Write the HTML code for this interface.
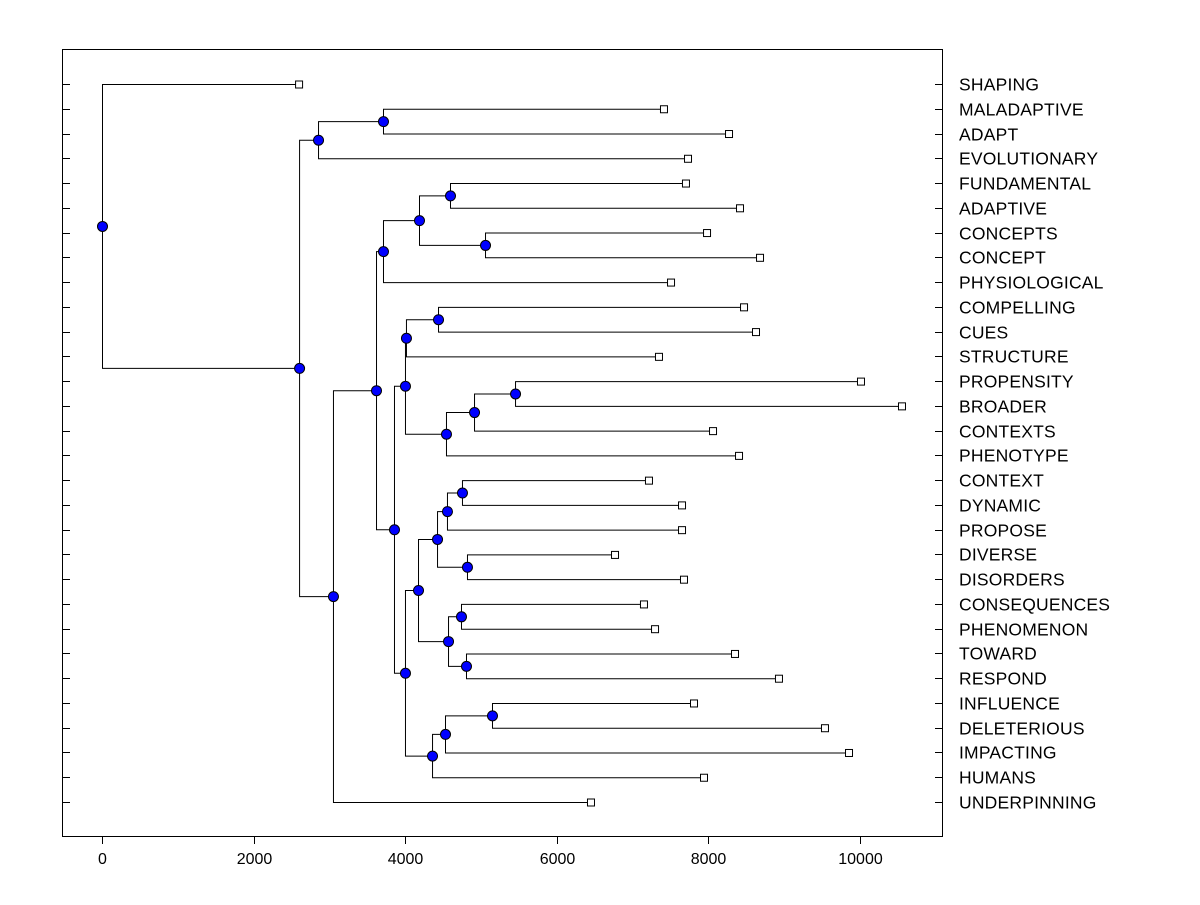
<!DOCTYPE html>
<html><head><meta charset="utf-8"><style>
body{margin:0;background:#fff;}
svg text{font-family:"Liberation Sans",Arial,sans-serif;}
</style></head><body>
<svg id="c" width="1200" height="900" xmlns="http://www.w3.org/2000/svg"></svg>
<script>
const labels=["SHAPING","MALADAPTIVE","ADAPT","EVOLUTIONARY","FUNDAMENTAL","ADAPTIVE","CONCEPTS","CONCEPT","PHYSIOLOGICAL","COMPELLING","CUES","STRUCTURE","PROPENSITY","BROADER","CONTEXTS","PHENOTYPE","CONTEXT","DYNAMIC","PROPOSE","DIVERSE","DISORDERS","CONSEQUENCES","PHENOMENON","TOWARD","RESPOND","INFLUENCE","DELETERIOUS","IMPACTING","HUMANS","UNDERPINNING"];
const leafValues=[2600,7414,8272,7731,7704,8417,7982,8681,7507,8470,8628,7348,10013,10554,8061,8404,7216,7652,7652,6768,7678,7150,7296,8351,8931,7810,9538,9855,7942,6451];
const nodeNames=["D","I","J","H","F","N","M","Q","P","O","K","X","V","W","T","Y","Z","U","R","AB","AA","S","L","G","E","C","B","A","root"];
const nodeLeft=["L1","L4","L6","N1","N3","L9","N5","L12","N7","N8","N6","L16","N11","L19","N12","L21","L23","N15","N14","L25","N19","N20","N18","N10","N4","N24","N0","N26","L0"];
const nodeRight=["L2","L5","L7","N2","L8","L10","L11","L13","L14","L15","N9","L17","L18","L20","N13","L22","L24","N16","N17","L26","L27","L28","N21","N22","N23","L29","L3","N25","N27"];
const nodeValues=[3707,4591,5053,4182,3707,4433,4010,5449,4908,4538,3997,4749,4551,4815,4420,4736,4802,4565,4169,5145,4525,4354,3997,3852,3615,3047,2850,2600,0];
const xTicks=[0,2000,4000,6000,8000,10000];

const svg=document.getElementById('c');const NS="http://www.w3.org/2000/svg";
const X=v=>102+v*0.0758;
const rowY=i=>84+i*(802-84)/29;
function mk(t,a,name){const e=document.createElementNS(NS,t);for(const k in a)e.setAttribute(k,a[k]);


svg.appendChild(e);return e;}
mk('rect',{x:62.5,y:49.5,width:880,height:787,fill:'none',stroke:'#000'},'plot-frame');
labels.forEach((l,i)=>{const y=Math.round(rowY(i))+0.5;
mk('line',{x1:62,y1:y,x2:70,y2:y,stroke:'#000'},'left-tick');
mk('line',{x1:935,y1:y,x2:943,y2:y,stroke:'#000'},'right-tick');
const t=mk('text',{x:959,y:y+6,'font-size':17.5,'letter-spacing':0.2},'leaf-label');t.textContent=l;});
xTicks.forEach(v=>{const x=Math.round(X(v))+0.5;
mk('line',{x1:x,y1:837,x2:x,y2:844,stroke:'#000'},'x-tick');
const t=mk('text',{x:x,y:864,'font-size':16,'text-anchor':'middle'},'x-tick-label');t.textContent=v;});
const pos={};
function get(r){if(pos[r])return pos[r];const i=+r.slice(1);
if(r[0]==='L'){pos[r]={x:X(leafValues[i]),y:rowY(i)};}
else{const a=get(nodeLeft[i]),b=get(nodeRight[i]);pos[r]={x:X(nodeValues[i]),y:(a.y+b.y)/2};}
return pos[r];}
const marks=[];
nodeNames.forEach((n,i)=>{const p=get('N'+i),a=get(nodeLeft[i]),b=get(nodeRight[i]);
mk('path',{d:`M${a.x},${a.y+0.5}H${p.x+0.5}V${b.y+0.5}H${b.x}`,fill:'none',stroke:'#000'},'branch-'+n);
marks.push(['circle',{cx:p.x+0.5,cy:p.y+0.5,r:5,fill:'#0000ff',stroke:'#000'},'node-'+n]);});
labels.forEach((l,i)=>{const p=get('L'+i);
marks.push(['rect',{x:p.x-3.5,y:p.y-3,width:7,height:7,fill:'#fff',stroke:'#000'},'leaf-marker-'+l.toLowerCase()]);});
marks.forEach(m=>mk(m[0],m[1],m[2]));
</script>
</body></html>
